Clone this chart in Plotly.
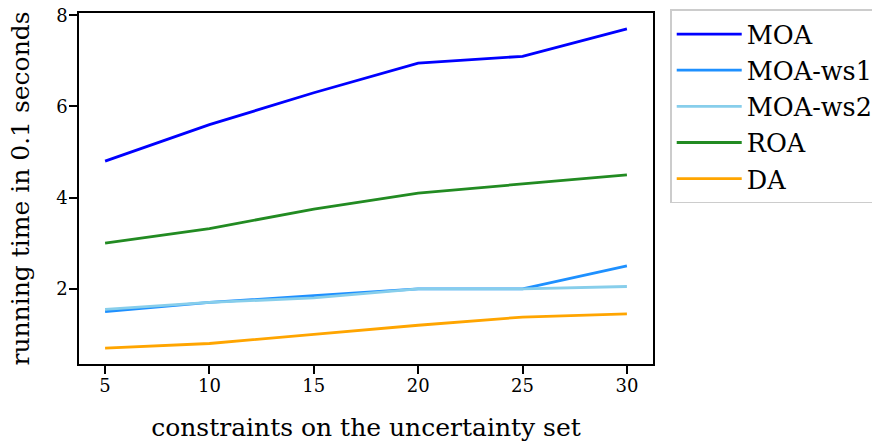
import plotly.graph_objects as go

# Number of constraints on the uncertainty set
constraints = [5, 10, 15, 20, 25, 30]

# Running time (in units of 0.1 s) per method
moa = [4.8, 5.6, 6.3, 6.95, 7.1, 7.7]
moa_ws1 = [1.5, 1.7, 1.85, 2.0, 2.0, 2.5]
moa_ws2 = [1.55, 1.7, 1.8, 2.0, 2.0, 2.05]
roa = [3.0, 3.32, 3.75, 4.1, 4.3, 4.5]
da = [0.7, 0.8, 1.0, 1.2, 1.38, 1.45]

series = [
    ("MOA", moa, "#0000ff"),
    ("MOA-ws1", moa_ws1, "#1e90ff"),
    ("MOA-ws2", moa_ws2, "#87ceeb"),
    ("ROA", roa, "#228b22"),
    ("DA", da, "#ffa500"),
]

FONT = "DejaVu Serif"

fig = go.Figure()
for name, vals, color in series:
    fig.add_trace(go.Scatter(
        x=constraints, y=vals, name=name, mode="lines",
        line=dict(color=color, width=2.8),
    ))

axis_common = dict(
    showline=True, linecolor="black", linewidth=1.6, mirror=True,
    ticks="outside", ticklen=8, tickwidth=1.5, tickcolor="black",
    showgrid=False, zeroline=False,
    tickfont=dict(family=FONT, size=18, color="black"),
)

fig.update_layout(
    width=872, height=448,
    # keep the plot box fixed; the legend sits in the right margin
    margin=dict(l=79, r=219, t=13, b=84, autoexpand=False),
    paper_bgcolor="white", plot_bgcolor="white",
    font=dict(family=FONT, color="black"),
    xaxis=dict(
        range=[3.75, 31.25], tickvals=constraints,
        ticklabelstandoff=-3,
        title=dict(text="constraints on the uncertainty set",
                   font=dict(family=FONT, size=25), standoff=23),
        **axis_common,
    ),
    yaxis=dict(
        range=[0.35, 8.05], tickvals=[2, 4, 6, 8],
        ticklabelstandoff=-2,
        title=dict(text="running time in 0.1 seconds",
                   font=dict(family=FONT, size=25), standoff=19),
        **axis_common,
    ),
    legend=dict(
        x=1.03, y=1.01, xanchor="left", yanchor="top",
        bordercolor="#cccccc", borderwidth=1.5, bgcolor="white",
        font=dict(family=FONT, size=25.5, color="black"),
        tracegroupgap=0, itemwidth=65,
    ),
    showlegend=True,
)

fig.write_html("out.html")
